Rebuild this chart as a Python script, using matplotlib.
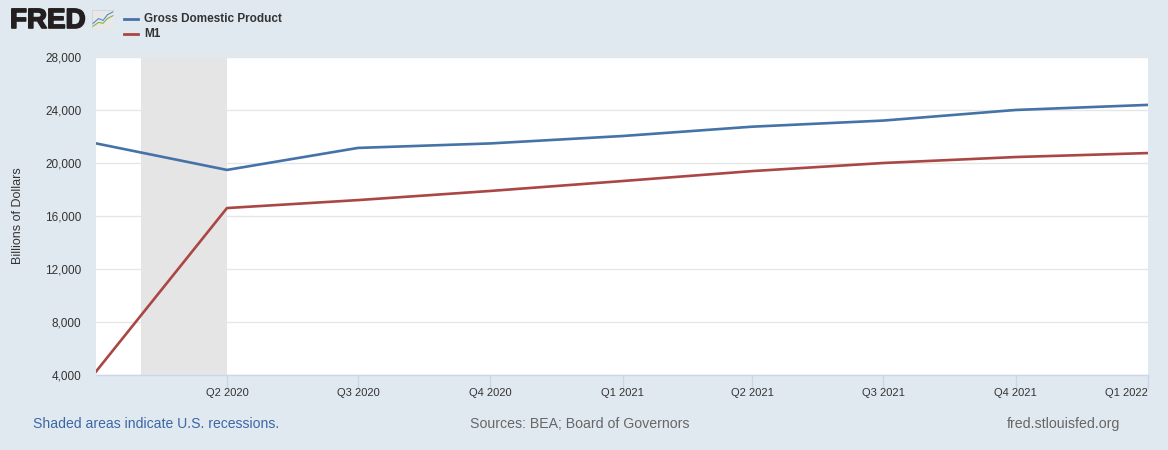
import datetime
import numpy as np
import matplotlib
matplotlib.use("Agg")
import matplotlib.pyplot as plt
import matplotlib.patheffects as pe
from matplotlib.patches import Rectangle

# quarterly observations, Q1 2020 .. Q1 2022
quarters = ["2020-01-01", "2020-04-01", "2020-07-01", "2020-10-01", "2021-01-01",
            "2021-04-01", "2021-07-01", "2021-10-01", "2022-01-01"]
tick_labels = ["Q2 2020", "Q3 2020", "Q4 2020", "Q1 2021", "Q2 2021",
               "Q3 2021", "Q4 2021", "Q1 2022"]
gdp = [21481, 19477, 21138, 21477, 22038, 22741, 23202, 24002, 24386]
m1 = [4260, 16600, 17200, 17890, 18640, 19390, 20000, 20450, 20750]
recession = ["2020-02-01", "2020-04-01"]

bg = "#e1e9f0"
blue = "#4572a7"
red = "#aa4643"

dates = [datetime.datetime.strptime(d, "%Y-%m-%d") for d in quarters]
rec = [datetime.datetime.strptime(d, "%Y-%m-%d") for d in recession]

fig = plt.figure(figsize=(11.68, 4.5), dpi=100, facecolor=bg)
ax = fig.add_axes([96 / 1168, 1 - 375 / 450, 1052 / 1168, 318 / 450])
ax.set_facecolor("white")

ax.axvspan(rec[0], rec[1], color="#e5e5e5", lw=0, zorder=1)
ax.plot(dates, gdp, color=blue, lw=1.9, zorder=3, solid_joinstyle="round")
ax.plot(dates, m1, color=red, lw=1.9, zorder=3, solid_joinstyle="round")

ax.set_xlim(dates[0], dates[-1])
ax.set_ylim(4000, 28000)
ax.set_yticks(np.arange(4000, 28001, 4000))
ax.yaxis.set_major_formatter(matplotlib.ticker.FuncFormatter(lambda v, p: f"{int(v):,}"))
ax.grid(axis="y", color="#e6e6e6", lw=1, zorder=0)
ax.set_axisbelow(True)

ax.set_xticks(dates[1:])
ax.set_xticklabels(tick_labels)

for s in ["top", "right", "left"]:
    ax.spines[s].set_visible(False)
ax.spines["bottom"].set_color("#ccd6eb")
ax.spines["bottom"].set_linewidth(1)

ax.tick_params(axis="y", length=0, pad=10.5, labelsize=8.5, labelcolor="#333333")
ax.tick_params(axis="x", length=10, width=1, color="#ccd6eb", pad=-1,
               labelsize=8, labelcolor="#333333")
for lab in ax.get_xticklabels():
    lab.set_family(["Liberation Sans Narrow", "Liberation Sans", "DejaVu Sans"])
ax.get_xticklabels()[-1].set_horizontalalignment("right")
for lab in ax.get_yticklabels():
    lab.set_family(["Liberation Sans", "DejaVu Sans"])

fig.text(18 / 1168, 1 - 216 / 450, "Billions of Dollars", rotation=90,
         ha="center", va="center", fontsize=9, color="#333333", family="Liberation Sans")

# FRED logo
fig.text(10 / 1168, 1 - 21 / 450, "FRED", fontsize=20, fontweight="bold",
         color="#231f20", ha="left", va="center", family="Liberation Sans",
         path_effects=[pe.withStroke(linewidth=1.2, foreground="#231f20")])
icon = fig.add_axes([92 / 1168, 1 - 29 / 450, 22 / 1168, 19 / 450])
icon.set_xlim(0, 1)
icon.set_ylim(0, 1)
icon.axis("off")
icon.add_patch(Rectangle((0, 0), 1, 1, facecolor="#e8e8e8", edgecolor="#cfcfcf", lw=0.5))
icon.plot([0.05, 0.3, 0.5, 0.7, 0.95], [0.3, 0.55, 0.45, 0.75, 0.9], color="#4d8fc6", lw=0.8)
icon.plot([0.05, 0.3, 0.5, 0.7, 0.95], [0.15, 0.35, 0.3, 0.55, 0.7], color="#8ab04a", lw=0.8)

# legend
fig.add_artist(plt.Line2D([124 / 1168, 138 / 1168], [1 - 19 / 450] * 2, color=blue, lw=2))
fig.add_artist(plt.Line2D([124 / 1168, 138 / 1168], [1 - 34 / 450] * 2, color=red, lw=2))
fig.text(144 / 1168, 1 - 19 / 450, "Gross Domestic Product", fontsize=8.5, fontweight="bold",
         color="#333333", va="center", family="Liberation Sans")
fig.text(144 / 1168, 1 - 34 / 450, "M1", fontsize=8.5, fontweight="bold",
         color="#333333", va="center", family="Liberation Sans")

# footer
fig.text(33 / 1168, 1 - 424 / 450, "Shaded areas indicate U.S. recessions.", fontsize=10.1,
         color="#3a67a6", va="center", family="Liberation Sans")
fig.text(580 / 1168, 1 - 424 / 450, "Sources: BEA; Board of Governors", fontsize=10.2,
         color="#666666", va="center", ha="center", family="Liberation Sans")
fig.text(1120 / 1168, 1 - 424 / 450, "fred.stlouisfed.org", fontsize=10.2,
         color="#666666", va="center", ha="right", family="Liberation Sans")

fig.savefig("out.png", dpi=100, facecolor=bg)
